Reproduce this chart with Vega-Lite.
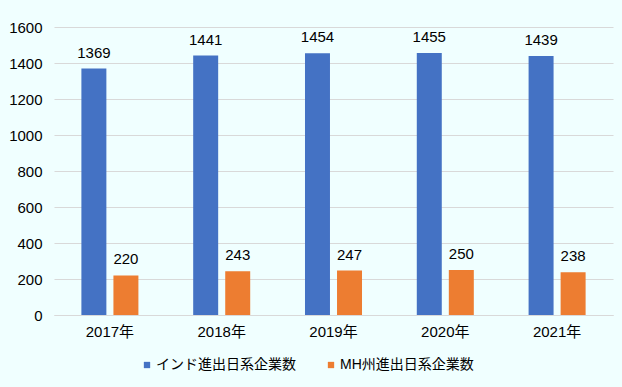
{
  "$schema": "https://vega.github.io/schema/vega-lite/v6.json",
  "width": 559,
  "height": 288,
  "autosize": {"type": "none"},
  "padding": {"left": 54, "top": 27, "right": 9, "bottom": 72},
  "background": "#F0FFFF",
  "config": {
    "view": {"stroke": null},
    "font": "Liberation Sans, Noto Sans CJK JP",
    "axis": {"labelFont": "Liberation Sans, Noto Sans CJK JP", "labelFontSize": 15, "labelColor": "#000000", "gridColor": "#D9D9D9", "domainColor": "#D9D9D9"},
    "legend": {"labelFont": "Liberation Sans, Noto Sans CJK JP", "labelFontSize": 14, "labelColor": "#000000"}
  },
  "data": {
    "values": [
      {"year": "2017年", "series": "インド進出日系企業数", "value": 1369},
      {"year": "2018年", "series": "インド進出日系企業数", "value": 1441},
      {"year": "2019年", "series": "インド進出日系企業数", "value": 1454},
      {"year": "2020年", "series": "インド進出日系企業数", "value": 1455},
      {"year": "2021年", "series": "インド進出日系企業数", "value": 1439},
      {"year": "2017年", "series": "MH州進出日系企業数", "value": 220},
      {"year": "2018年", "series": "MH州進出日系企業数", "value": 243},
      {"year": "2019年", "series": "MH州進出日系企業数", "value": 247},
      {"year": "2020年", "series": "MH州進出日系企業数", "value": 250},
      {"year": "2021年", "series": "MH州進出日系企業数", "value": 238}
    ]
  },
  "encoding": {
    "x": {
      "field": "year", "type": "nominal",
      "scale": {"paddingInner": 0.49, "paddingOuter": 0.245},
      "axis": {"title": null, "labelAngle": 0, "ticks": false, "grid": false, "labelPadding": 9}
    },
    "xOffset": {
      "field": "series", "type": "nominal",
      "sort": ["インド進出日系企業数", "MH州進出日系企業数"],
      "scale": {"paddingInner": 0.22, "paddingOuter": 0}
    },
    "y": {
      "field": "value", "type": "quantitative",
      "scale": {"domain": [0, 1600]},
      "axis": {"title": null, "format": "d", "values": [0, 200, 400, 600, 800, 1000, 1200, 1400, 1600], "domain": false, "ticks": false, "labelPadding": 12}
    }
  },
  "layer": [
    {
      "mark": {"type": "bar"},
      "encoding": {
        "color": {
          "field": "series", "type": "nominal",
          "sort": ["インド進出日系企業数", "MH州進出日系企業数"],
          "scale": {"domain": ["インド進出日系企業数", "MH州進出日系企業数"], "range": ["#4472C4", "#ED7D31"]},
          "legend": {
            "title": null, "orient": "none", "direction": "horizontal",
            "legendX": 86, "legendY": 331,
            "symbolType": "square", "symbolSize": 40, "labelOffset": 2, "columnPadding": 28
          }
        }
      }
    },
    {
      "mark": {"type": "text", "baseline": "alphabetic", "dy": -11, "fontSize": 15, "color": "#000000"},
      "encoding": {"text": {"field": "value", "type": "quantitative", "format": "d"}}
    }
  ]
}
